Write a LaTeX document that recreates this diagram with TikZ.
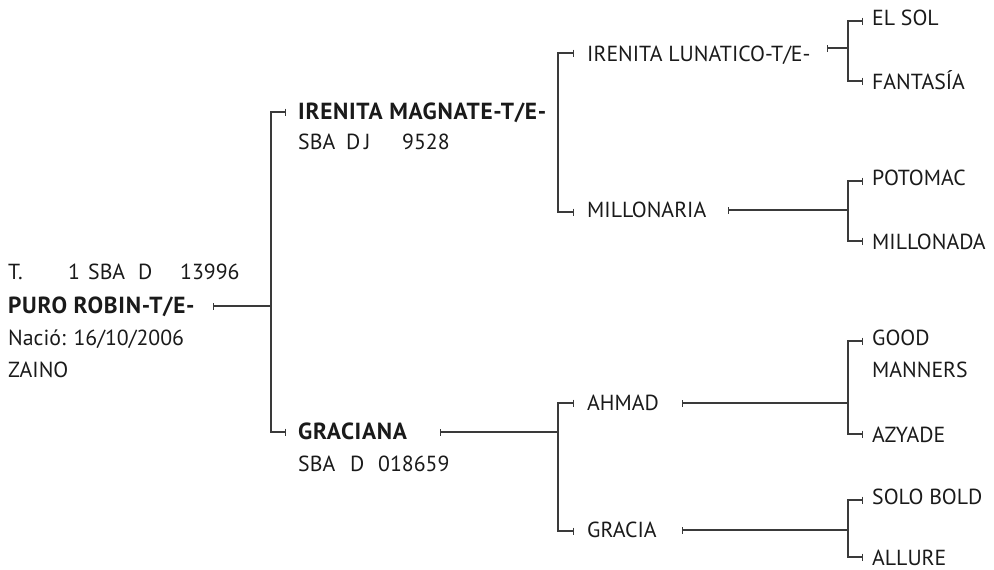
\documentclass[tikz,border=0pt]{standalone}
\usepackage{fontspec}
\setmainfont{PT Sans}
\usetikzlibrary{arrows.meta}
\definecolor{ln}{HTML}{3A3A3A}
\definecolor{tx}{HTML}{1A1A1A}
\begin{document}
\begin{tikzpicture}[x=1pt,y=-1pt,
  lbl/.style={anchor=west,inner sep=0pt,text height=15pt,text depth=0pt,font=\fontsize{21.8}{21.8}\selectfont,text=tx},
  blbl/.style={lbl,font=\fontsize{23.3}{23.3}\selectfont\bfseries\addfontfeatures{LetterSpace=3}},
  brk/.style={draw=ln,line width=1.1pt,-{Bar[width=7pt,line width=1pt]}},
  par/.style={draw=ln,line width=1.1pt,{Bar[width=7pt,line width=1pt]}-}]
\useasboundingbox (0,0) rectangle (994,570);
% root
\node[lbl]  (r1) at (8,272) {\makebox[60pt][l]{T.}\makebox[20pt][l]{1}\makebox[50pt][l]{SBA}\makebox[42pt][l]{D}13996};
\node[blbl] (r)  at (8,306) {PURO ROBIN-T/E-};
\node[lbl]  (r3) at (8,338) {Nació: 16/10/2006};
\node[lbl]  (r4) at (8,370) {ZAINO};
% level 2
\node[blbl] (s)  at (298,112) {IRENITA MAGNATE-T/E-};
\node[lbl]  (s2) at (298,142) {\makebox[48pt][l]{SBA}\makebox[56pt][l]{D\,J}9528};
\node[blbl] (d)  at (298,432) {GRACIANA};
\node[lbl]  (d2) at (298,464) {\makebox[52pt][l]{SBA}\makebox[28pt][l]{D}018659};
% level 3
\node[lbl] (ss) at (587,54)  {IRENITA LUNATICO-T/E-};
\node[lbl] (sd) at (587,210) {MILLONARIA};
\node[lbl] (ds) at (587,403) {AHMAD};
\node[lbl] (dd) at (587,530) {GRACIA};
% level 4
\node[lbl] (sss) at (872,18)  {EL SOL};
\node[lbl] (ssd) at (872,82)  {FANTASÍA};
\node[lbl] (sds) at (872,178) {POTOMAC};
\node[lbl] (sdd) at (872,242) {MILLONADA};
\node[lbl] (dss) at (872,338) {GOOD};
\node[lbl] (dss2) at (872,370) {MANNERS};
\node[lbl] (dsd) at (872,435) {AZYADE};
\node[lbl] (dds) at (872,497) {SOLO BOLD};
\node[lbl] (ddd) at (872,558) {ALLURE};
% junctions
\coordinate (jr)  at (271,306);
\coordinate (js)  at (558,112);
\coordinate (jd)  at (558,432);
\coordinate (jss) at (848,48);
\coordinate (jsd) at (848,210);
\coordinate (jds) at (848,403);
\coordinate (jdd) at (848,530);
% parent connectors
\coordinate (tr)  at (213,306);
\coordinate (td)  at (440,432);
\coordinate (tss) at (827,48);
\coordinate (tsd) at (728,210);
\coordinate (tds) at (682,403);
\coordinate (tdd) at (682,530);
\draw[par] (tr) -- (jr);
\draw[par] (td) -- (jd);
\draw[par] (tss) -- (jss);
\draw[par] (tsd) -- (jsd);
\draw[par] (tds) -- (jds);
\draw[par] (tdd) -- (jdd);
% brackets
\draw[brk] (jr) |- ([xshift=-12pt]s.west);
\draw[brk] (jr) |- ([xshift=-12pt]d.west);
\draw[brk] (js) |- ([xshift=-13pt,yshift=1pt]ss.west);
\draw[brk] (js) |- ([xshift=-13pt,yshift=-2pt]sd.west);
\draw[brk] (jd) |- ([xshift=-13pt]ds.west);
\draw[brk] (jd) |- ([xshift=-13pt,yshift=-1pt]dd.west);
\draw[brk] (jss) |- ([xshift=-9pt,yshift=-3pt]sss.west);
\draw[brk] (jss) |- ([xshift=-9pt,yshift=1pt]ssd.west);
\draw[brk] (jsd) |- ([xshift=-9pt,yshift=-3pt]sds.west);
\draw[brk] (jsd) |- ([xshift=-9pt,yshift=1pt]sdd.west);
\draw[brk] (jds) |- ([xshift=-9pt,yshift=-3pt]dss.west);
\draw[brk] (jds) |- ([xshift=-9pt,yshift=1pt]dsd.west);
\draw[brk] (jdd) |- ([xshift=-9pt,yshift=-3pt]dds.west);
\draw[brk] (jdd) |- ([xshift=-9pt,yshift=1pt]ddd.west);
\end{tikzpicture}
\end{document}
